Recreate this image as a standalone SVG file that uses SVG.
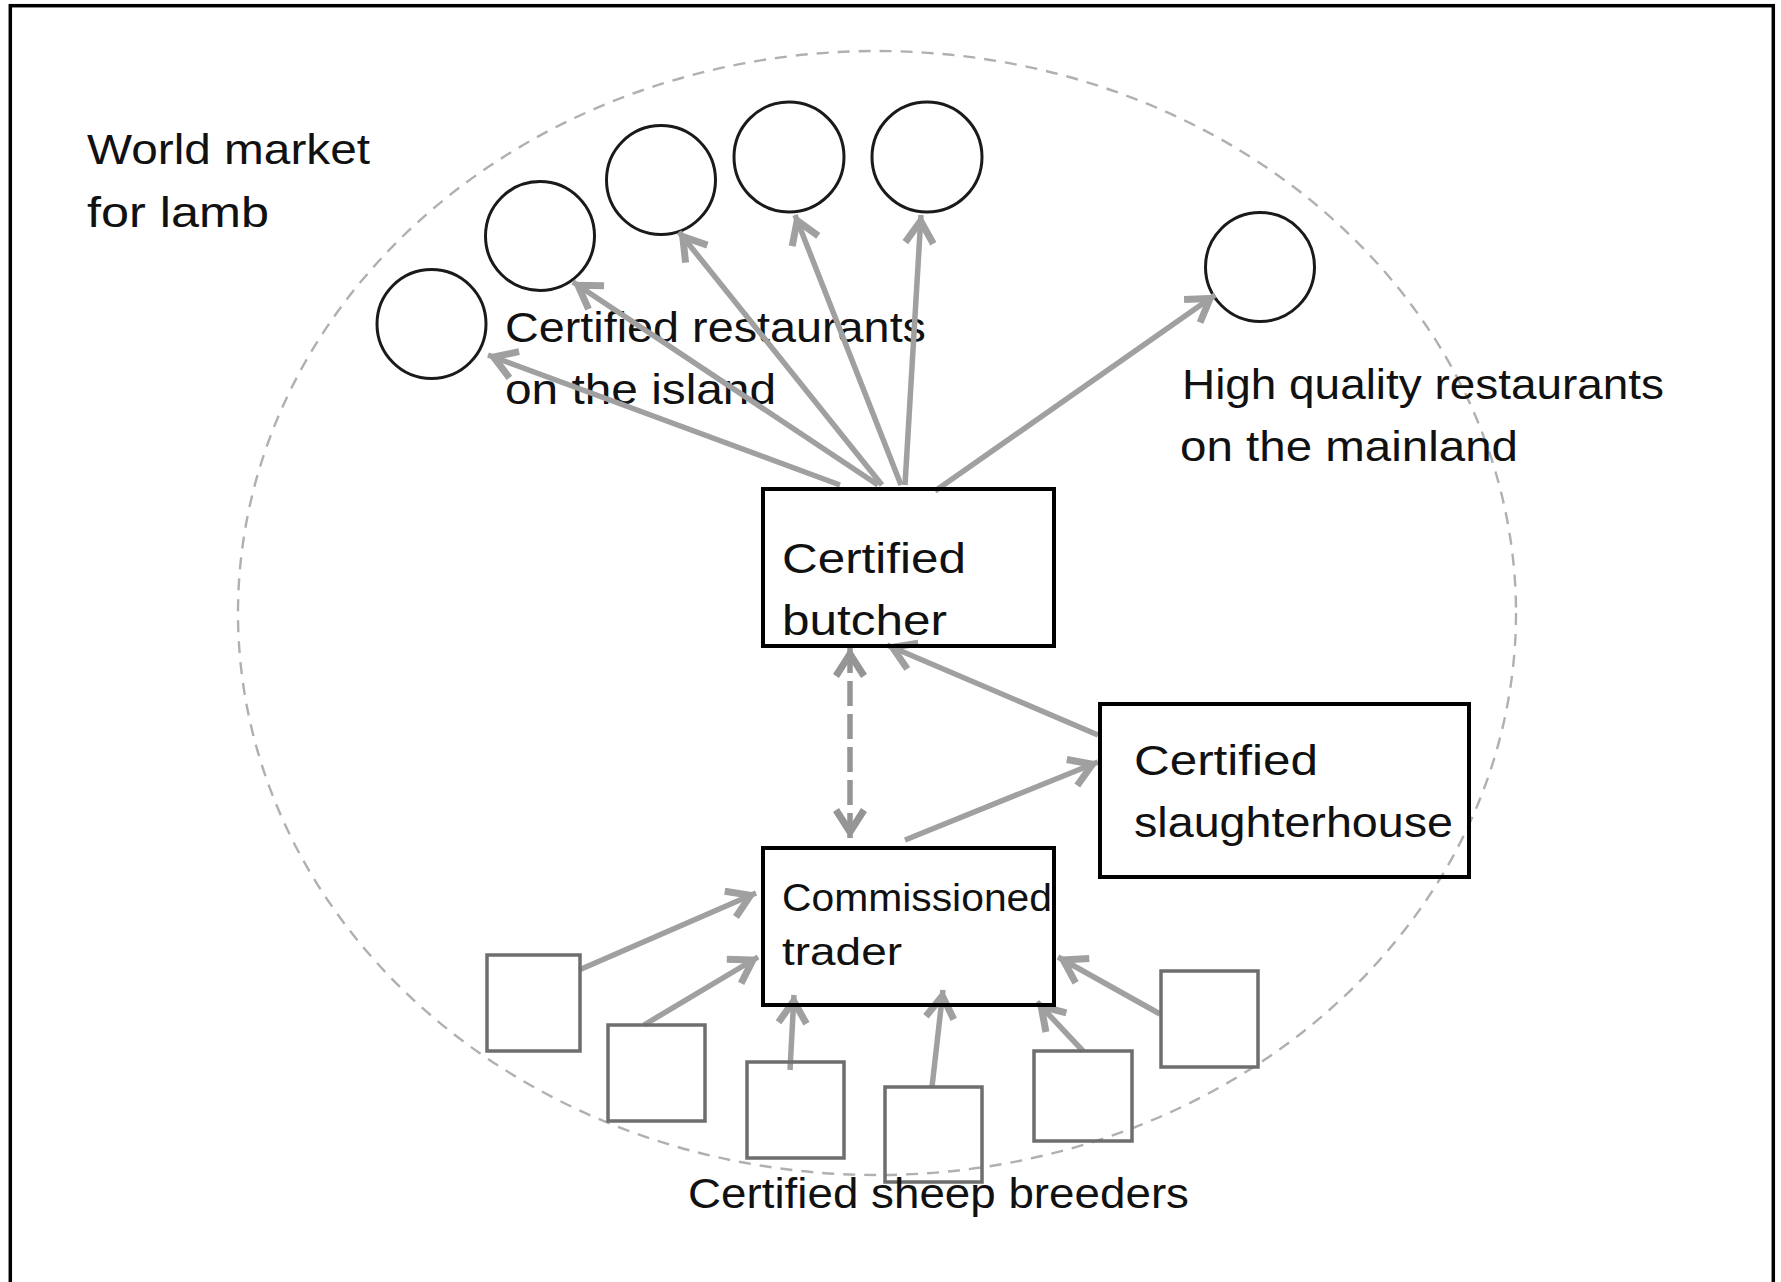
<svg xmlns="http://www.w3.org/2000/svg" width="1781" height="1282" viewBox="0 0 1781 1282">
  <style>
    .lbl { font-family: "Liberation Sans", Arial, sans-serif; font-size: 43px; fill: #111; }
    .lbl-sm { font-family: "Liberation Sans", Arial, sans-serif; font-size: 38px; fill: #111; }
    .box { fill: none; stroke: #000; stroke-width: 4; }
    .farm { fill: none; stroke: #6e6e6e; stroke-width: 3.5; }
    .rest { fill: none; stroke: #1a1a1a; stroke-width: 3; }
    .flow { fill: none; stroke: #a0a0a0; stroke-width: 5.5; marker-end: url(#arr); }
    .link { fill: none; stroke: #959595; stroke-width: 5.5; stroke-dasharray: 25 8; marker-start: url(#arrD); marker-end: url(#arrD); }
  </style>
  <defs>
    <marker id="arr" markerUnits="userSpaceOnUse" viewBox="-34 -20 40 40" markerWidth="40" markerHeight="40" refX="0" refY="0" orient="auto">
      <path d="M-28,-14 L-6,0 L-28,14" fill="none" stroke="#a0a0a0" stroke-width="7"/>
    </marker>
    <marker id="arrD" markerUnits="userSpaceOnUse" viewBox="-34 -20 40 40" markerWidth="40" markerHeight="40" refX="0" refY="0" orient="auto-start-reverse">
      <path d="M-28,-14 L-6,0 L-28,14" fill="none" stroke="#959595" stroke-width="7" stroke-dasharray="none"/>
    </marker>
  </defs>

  <rect width="1781" height="1282" fill="#fff"/>
  <!-- outer frame, open at the bottom edge of the canvas -->
  <rect x="10.3" y="5.7" width="1763" height="1300" fill="none" stroke="#000" stroke-width="3.5"/>

  <!-- world market boundary -->
  <g id="world-market">
    <ellipse cx="877" cy="613" rx="639" ry="562" fill="none" stroke="#b0b0b0" stroke-width="2.4" stroke-dasharray="12 9"/>
    <text class="lbl" x="87" y="164" textLength="283" lengthAdjust="spacingAndGlyphs">World market</text>
    <text class="lbl" x="87" y="227" textLength="182" lengthAdjust="spacingAndGlyphs">for lamb</text>
  </g>

  <!-- restaurants on the island -->
  <g id="island-restaurants">
    <circle class="rest" cx="431.5" cy="324" r="54.5"/>
    <circle class="rest" cx="540" cy="236" r="54.5"/>
    <circle class="rest" cx="661" cy="180" r="54.5"/>
    <circle class="rest" cx="789" cy="157" r="55"/>
    <circle class="rest" cx="927" cy="157" r="55"/>
    <text class="lbl" x="505" y="342" textLength="421" lengthAdjust="spacingAndGlyphs">Certified restaurants</text>
    <text class="lbl" x="505" y="404" textLength="271" lengthAdjust="spacingAndGlyphs">on the island</text>
  </g>

  <!-- restaurants on the mainland -->
  <g id="mainland-restaurants">
    <circle class="rest" cx="1260" cy="267" r="54.5"/>
    <text class="lbl" x="1182" y="399" textLength="482" lengthAdjust="spacingAndGlyphs">High quality restaurants</text>
    <text class="lbl" x="1180" y="461" textLength="338" lengthAdjust="spacingAndGlyphs">on the mainland</text>
  </g>

  <!-- flows between actors -->
  <g id="connectors">
    <line class="flow" x1="840" y1="485" x2="488" y2="355"/>
    <line class="flow" x1="878" y1="485" x2="573" y2="282"/>
    <line class="flow" x1="882" y1="485" x2="679" y2="232"/>
    <line class="flow" x1="901" y1="485" x2="795" y2="215"/>
    <line class="flow" x1="905" y1="485" x2="921" y2="215"/>
    <line class="flow" x1="935" y1="491" x2="1215" y2="295"/>
    <line class="flow" x1="1098" y1="735" x2="887" y2="645"/>
    <line class="flow" x1="905" y1="840" x2="1098" y2="762"/>
    <line class="link" x1="850" y1="648" x2="850" y2="838"/>
    <line class="flow" x1="579" y1="970" x2="756" y2="893"/>
    <line class="flow" x1="644" y1="1025" x2="758" y2="957"/>
    <line class="flow" x1="790" y1="1070" x2="794" y2="995"/>
    <line class="flow" x1="932" y1="1087" x2="943" y2="990"/>
    <line class="flow" x1="1083" y1="1051" x2="1037" y2="1002"/>
    <line class="flow" x1="1160" y1="1014" x2="1058" y2="957"/>
  </g>

  <g id="butcher">
    <rect class="box" x="763" y="489" width="291" height="157"/>
    <text class="lbl" x="782" y="573" textLength="184" lengthAdjust="spacingAndGlyphs">Certified</text>
    <text class="lbl" x="782" y="635" textLength="165" lengthAdjust="spacingAndGlyphs">butcher</text>
  </g>

  <g id="slaughterhouse">
    <rect class="box" x="1100" y="704" width="369" height="173"/>
    <text class="lbl" x="1134" y="775" textLength="184" lengthAdjust="spacingAndGlyphs">Certified</text>
    <text class="lbl" x="1134" y="837" textLength="319" lengthAdjust="spacingAndGlyphs">slaughterhouse</text>
  </g>

  <g id="trader">
    <rect class="box" x="763" y="848" width="291" height="157"/>
    <text class="lbl-sm" x="782" y="911" textLength="270" lengthAdjust="spacingAndGlyphs">Commissioned</text>
    <text class="lbl-sm" x="782" y="965" textLength="120" lengthAdjust="spacingAndGlyphs">trader</text>
  </g>

  <g id="sheep-breeders">
    <rect class="farm" x="487" y="955" width="93" height="96"/>
    <rect class="farm" x="608" y="1025" width="97" height="96"/>
    <rect class="farm" x="747" y="1062" width="97" height="96"/>
    <rect class="farm" x="885" y="1087" width="97" height="95"/>
    <rect class="farm" x="1034" y="1051" width="98" height="90"/>
    <rect class="farm" x="1161" y="971" width="97" height="96"/>
    <text class="lbl" x="688" y="1208" textLength="501" lengthAdjust="spacingAndGlyphs">Certified sheep breeders</text>
  </g>
</svg>
